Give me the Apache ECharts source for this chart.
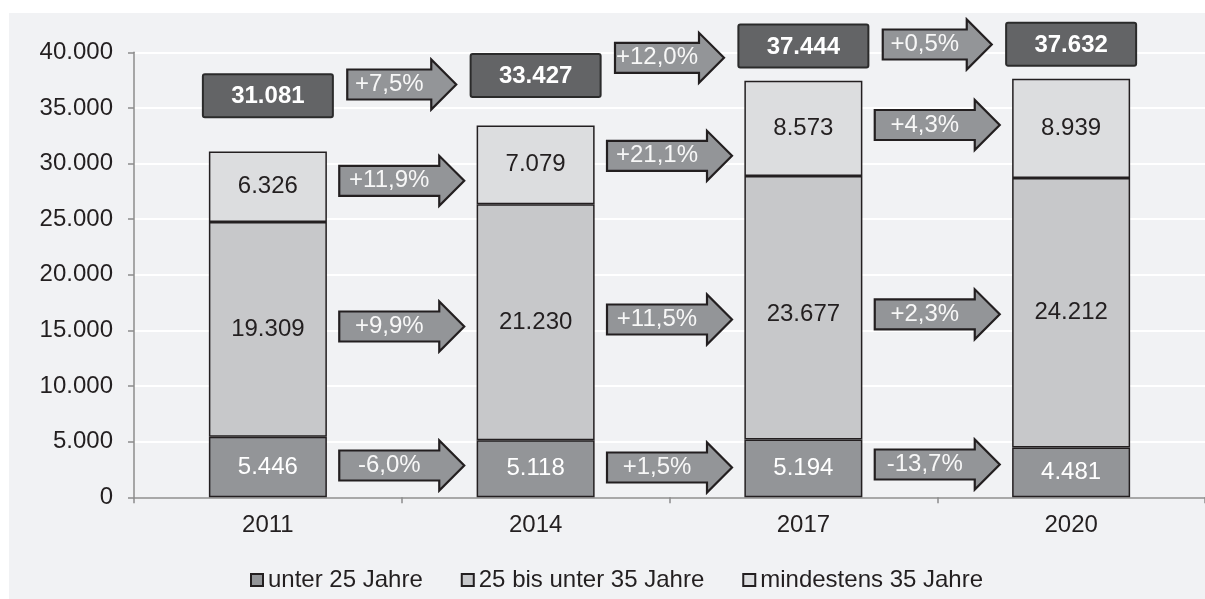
<!DOCTYPE html>
<html><head><meta charset="utf-8">
<script src="https://cdn.jsdelivr.net/npm/echarts@6/dist/echarts.min.js"></script>
<style>html,body{margin:0;padding:0;background:#fff}#c{width:1205px;height:599px}</style>
</head><body><div id="c"></div>
<script>
// ---- data ----
const years = ['2011', '2014', '2017', '2020'];
const under25 = [5446, 5118, 5194, 4481];
const from25to35 = [19309, 21230, 23677, 24212];
const min35 = [6326, 7079, 8573, 8939];
const totals = [31081, 33427, 37444, 37632];
const changeTotal = ['+7,5%', '+12,0%', '+0,5%'];
const changeMin35 = ['+11,9%', '+21,1%', '+4,3%'];
const change25to35 = ['+9,9%', '+11,5%', '+2,3%'];
const changeUnder25 = ['-6,0%', '+1,5%', '-13,7%'];
const yTicks = [0, 5000, 10000, 15000, 20000, 25000, 30000, 35000, 40000];

// ---- layout (annotation placement in value units) ----
const boxY = [36100, 37915, 40566, 40728];
const arrowYTotal = [37106, 39506, 40703];
const arrowYMin35 = [28449, 30697, 33467];
const arrowY25to35 = [15353, 15982, 16450];
const arrowYUnder25 = [2858, 2679, 2948];
const labelShift25to35 = [0, 0, 7, 0]; // px

const FONT = '"Liberation Sans", Arial, sans-serif';
const FS = 24;
const fmt = v => String(v).replace(/\B(?=(\d{3})+(?!\d))/g, '.');

const C_U25 = '#939598', C_2535 = '#c7c8ca', C_M35 = '#dcdddf';
const EDGE = '#231f20';

function arrowRows() {
  const rows = [];
  const add = (labels, ys, w) => labels.forEach((t, i) => rows.push({ value: [i, ys[i]], label: t, w: w }));
  add(changeTotal, arrowYTotal, 109);
  add(changeMin35, arrowYMin35, 125);
  add(change25to35, arrowY25to35, 125);
  add(changeUnder25, arrowYUnder25, 125);
  return rows;
}
const arrowData = arrowRows();

const chart = echarts.init(document.getElementById('c'), null, { renderer: 'canvas' });
const barLabel = (color) => ({
  show: true, position: 'inside', color: color, fontSize: FS, fontFamily: FONT,
  formatter: p => fmt(p.value)
});
chart.setOption({
  animation: false,
  backgroundColor: '#ffffff',
  textStyle: { fontFamily: FONT },
  graphic: [{
    type: 'rect', z: -10, silent: true,
    shape: { x: 9, y: 13, width: 1196, height: 586 },
    style: { fill: '#f1f2f4' }
  }],
  grid: { left: 134, top: 52.3, width: 1074.4, bottom: 101.7 },
  legend: {
    data: ['unter 25 Jahre', '25 bis unter 35 Jahre', 'mindestens 35 Jahre'],
    left: 250, top: 568, padding: 0,
    icon: 'rect', itemWidth: 12, itemHeight: 12, itemGap: 38,
    textStyle: { fontSize: FS, color: '#231f20', fontFamily: FONT }
  },
  xAxis: {
    type: 'category', data: years,
    axisLine: { lineStyle: { color: '#8c8c8c', width: 1.5 } },
    axisTick: { show: true, length: 6, lineStyle: { color: '#8c8c8c', width: 1.5 } },
    axisLabel: { fontSize: FS, color: '#231f20', margin: 16 }
  },
  yAxis: {
    type: 'value', min: 0, max: 40000, interval: 5000,
    axisLine: { show: true, lineStyle: { color: '#8c8c8c', width: 1.5 } },
    axisTick: { show: true, length: 6, lineStyle: { color: '#8c8c8c', width: 1.5 } },
    splitLine: { lineStyle: { color: '#ffffff', width: 2 } },
    axisLabel: { fontSize: FS, color: '#231f20', margin: 21,
      formatter: v => yTicks.indexOf(v) >= 0 ? fmt(v) : '' }
  },
  series: [
    { name: 'unter 25 Jahre', type: 'bar', stack: 'a', barWidth: 118, data: under25,
      itemStyle: { color: C_U25, borderColor: EDGE, borderWidth: 1.5 }, label: barLabel('#ffffff') },
    { name: '25 bis unter 35 Jahre', type: 'bar', stack: 'a', barWidth: 118,
      data: from25to35.map((v, i) => ({ value: v, label: { offset: [0, labelShift25to35[i]] } })),
      itemStyle: { color: C_2535, borderColor: EDGE, borderWidth: 1.5 }, label: barLabel('#231f20') },
    { name: 'mindestens 35 Jahre', type: 'bar', stack: 'a', barWidth: 118, data: min35,
      itemStyle: { color: C_M35, borderColor: EDGE, borderWidth: 1.5 }, label: barLabel('#231f20') },
    { name: 'totals', type: 'custom', clip: false, z: 5,
      data: totals.map((t, i) => [i, boxY[i]]),
      renderItem: (params, api) => {
        const p = api.coord([api.value(0), api.value(1)]);
        const w = 130, h = 43;
        return { type: 'group', children: [
          { type: 'rect', shape: { x: p[0] - w / 2, y: p[1] - h / 2, width: w, height: h, r: 2 },
            style: { fill: '#636466', stroke: '#2b2b2b', lineWidth: 2 } },
          { type: 'text', style: { text: fmt(totals[params.dataIndex]), x: p[0], y: p[1] + 1,
            align: 'center', verticalAlign: 'middle', fill: '#ffffff',
            font: 'bold ' + FS + 'px ' + FONT } }
        ] };
      }
    },
    { name: 'changes', type: 'custom', clip: false, z: 5,
      data: arrowData.map(d => d.value),
      renderItem: (params, api) => {
        const d = arrowData[params.dataIndex];
        const i = api.value(0), y = api.value(1);
        const a = api.coord([i, y]), b = api.coord([i + 1, y]);
        const cx = (a[0] + b[0]) / 2, cy = a[1];
        const w = d.w, bh = 30, hh = 50, hl = 25;
        const x0 = cx - w / 2, x1 = cx + w / 2, xh = x1 - hl;
        const pts = [[x0, cy - bh / 2], [xh, cy - bh / 2], [xh, cy - hh / 2], [x1, cy],
          [xh, cy + hh / 2], [xh, cy + bh / 2], [x0, cy + bh / 2]];
        return { type: 'group', children: [
          { type: 'polygon', shape: { points: pts },
            style: { fill: '#939598', stroke: '#231f20', lineWidth: 2.2, lineJoin: 'miter' } },
          { type: 'text', style: { text: d.label, x: (x0 + xh) / 2, y: cy,
            align: 'center', verticalAlign: 'middle', fill: '#f7f7f7',
            font: FS + 'px ' + FONT } }
        ] };
      }
    }
  ]
});
</script>
</body></html>
